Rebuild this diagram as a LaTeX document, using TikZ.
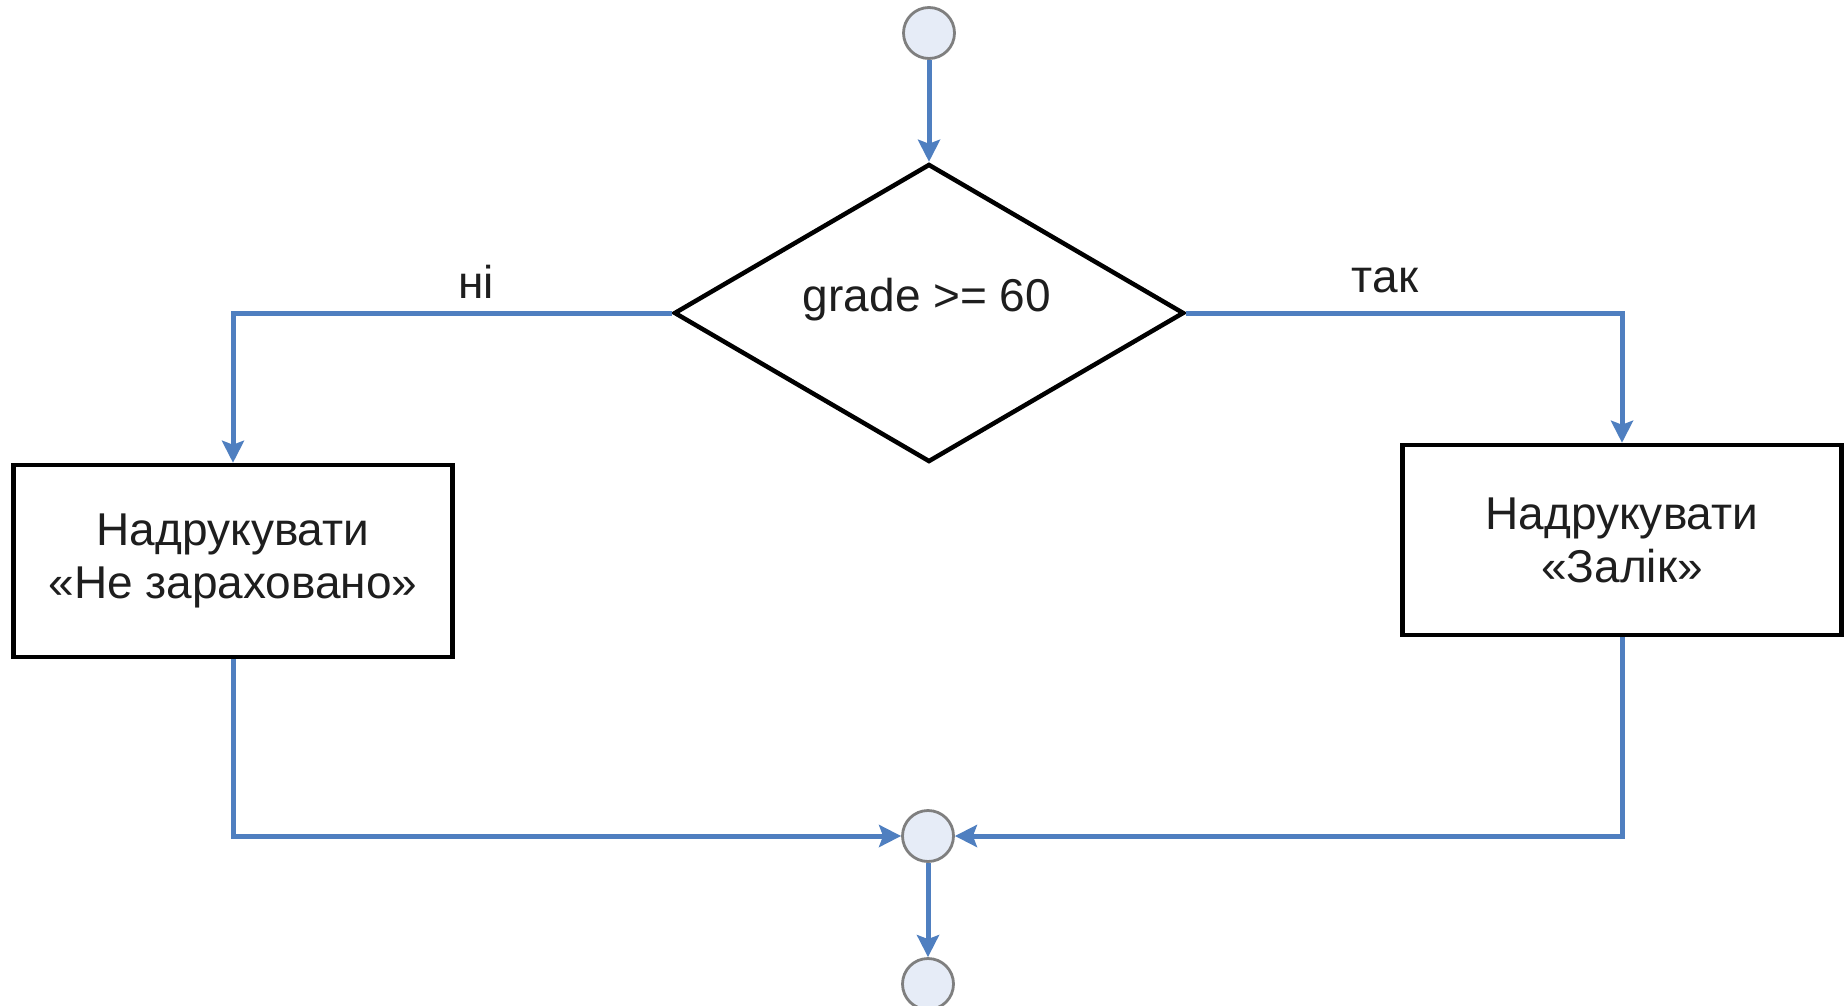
\documentclass[tikz,border=0pt]{standalone}
\usepackage{fontspec}
\setmainfont{Liberation Sans}
\usetikzlibrary{shapes.geometric,arrows.meta}
\definecolor{flowblue}{HTML}{4F7FC0}
\definecolor{joinfill}{HTML}{E6ECF7}
\definecolor{joinline}{HTML}{7F7F7F}
\definecolor{ink}{HTML}{1E1E1E}
\tikzset{
  conn/.style={draw=flowblue, line width=5pt, -{Stealth[length=22pt,width=22pt,inset=4pt]}},
  joint/.style={circle, draw=joinline, fill=joinfill, line width=2.8pt, minimum size=51pt, inner sep=0pt},
  actbox/.style={rectangle, draw=black, line width=4.5pt, minimum width=439pt, align=center, inner sep=0pt,
                 text=ink, font=\fontsize{46}{53}\selectfont},
  decision/.style={diamond, draw=black, line width=4.5pt, minimum width=510pt, minimum height=298pt, inner sep=0pt},
  txt/.style={text=ink, font=\fontsize{46}{53}\selectfont, inner sep=0pt}
}
\begin{document}
\begin{tikzpicture}[x=1pt,y=-1pt]
  \useasboundingbox[fill=white] (0,0) rectangle (1847,1006);

  % start, decision, actions, merge point, end
  \node[joint] (start) at (929,33) {};
  \node[decision] (cond) at (929,313) {};
  \node[txt] (condtext) at (927,300) {grade >= 60};
  \node[actbox, minimum height=192pt] (fail) at (233,561) {Надрукувати\\«Не зараховано»};
  \node[actbox, minimum height=190pt] (pass) at (1622,540) {Надрукувати\\«Залік»};
  \node[joint] (merge) at (928,836) {};
  \node[joint] (stop) at (928,984) {};

  % branch labels
  \node[txt] (nolabel) at (476,282) {ні};
  \node[txt] (yeslabel) at (1385,280) {так};

  % connectors
  \draw[conn] (start) -- (cond.north);
  \draw[conn] (cond.west) -| (fail.north);
  \draw[conn] (cond.east) -| (pass.north);
  \draw[conn] (fail.south) |- (merge.west);
  \draw[conn] (pass.south) |- (merge.east);
  \draw[conn] (merge) -- (stop);
\end{tikzpicture}
\end{document}
